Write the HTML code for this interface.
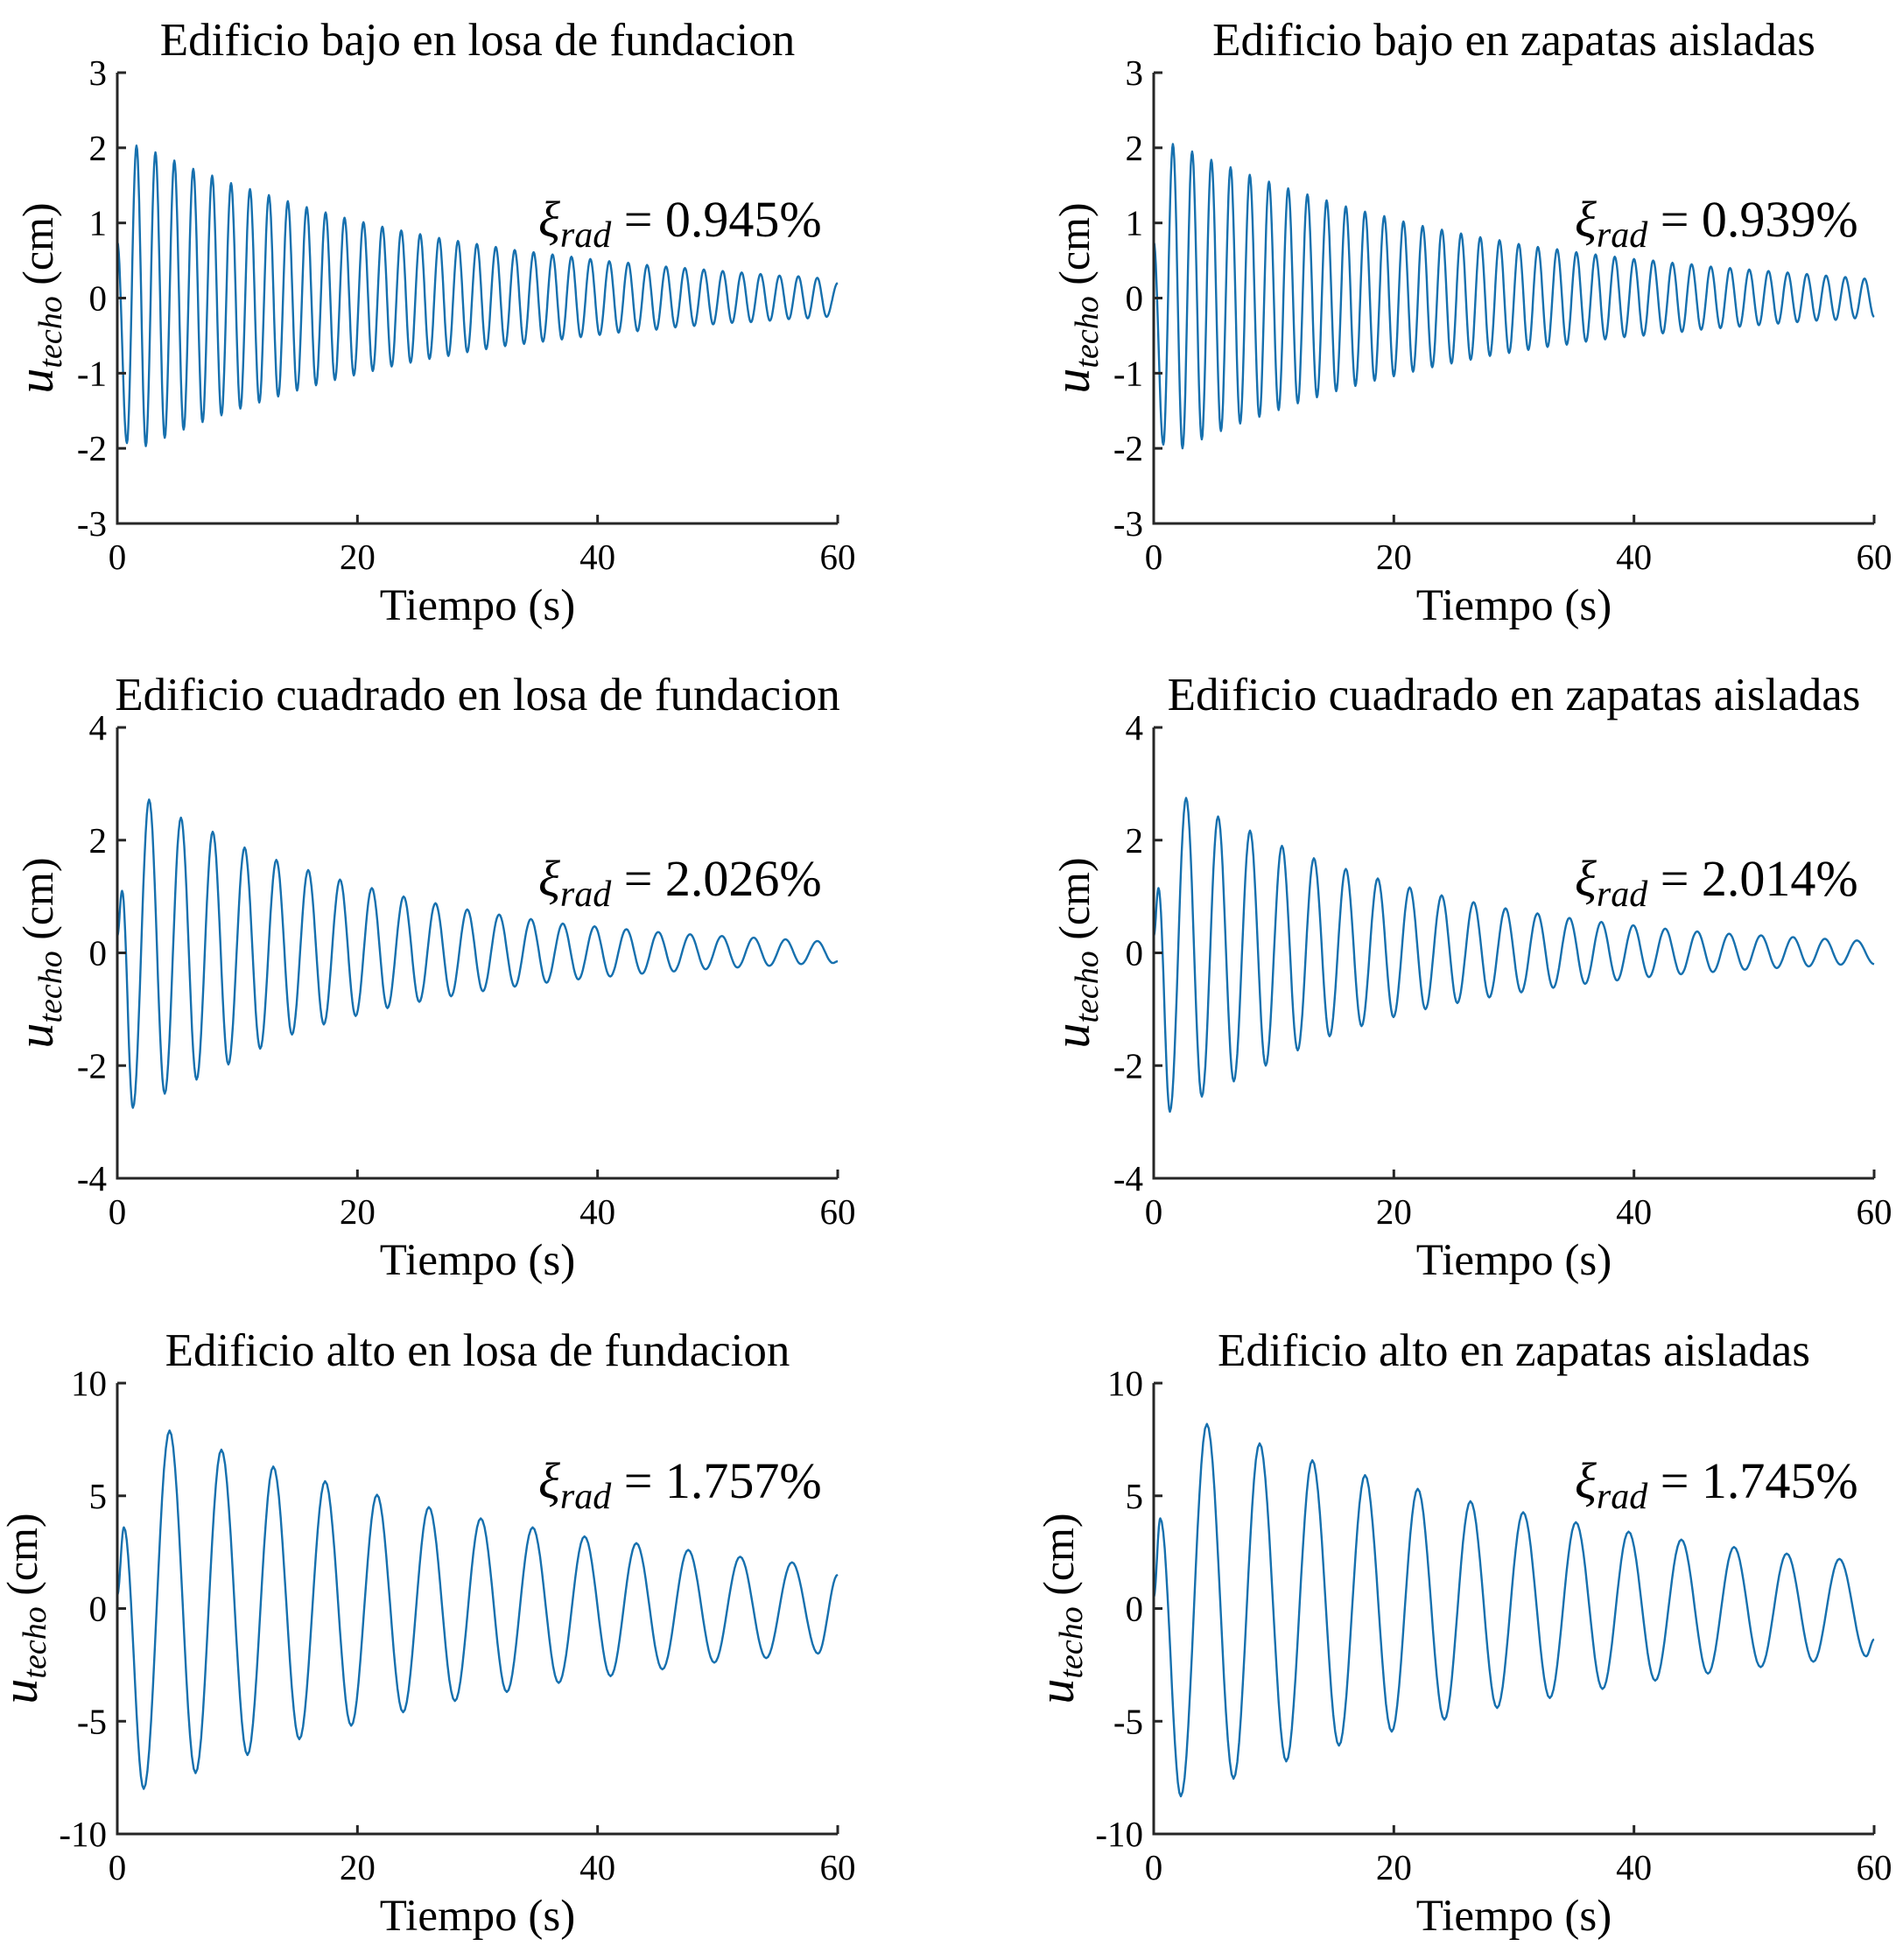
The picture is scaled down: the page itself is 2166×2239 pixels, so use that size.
<!DOCTYPE html>
<html><head><meta charset="utf-8">
<style>
html,body{margin:0;padding:0;background:#fff}
svg{display:block}
text{font-family:"Liberation Serif","DejaVu Serif",serif;fill:#000}
</style></head>
<body>
<svg id="fig" width="2166" height="2239" viewBox="0 0 2166 2239" xmlns="http://www.w3.org/2000/svg"></svg>
<script>
// ---- data ----
const titles = ["Edificio bajo en losa de fundacion","Edificio bajo en zapatas aisladas","Edificio cuadrado en losa de fundacion","Edificio cuadrado en zapatas aisladas","Edificio alto en losa de fundacion","Edificio alto en zapatas aisladas"];
const dampingLabels = ["0.945%","0.939%","2.026%","2.014%","1.757%","1.745%"];
const xTicks = [0,20,40,60];
const yTicksRow1 = [-3,-2,-1,0,1,2,3];
const yTicksRow2 = [-4,-2,0,2,4];
const yTicksRow3 = [-10,-5,0,5,10];
const startValues = [0.75,0.75,0.3,0.3,0.6,0.5];
const endValues = [0.2,-0.25,-0.15,-0.2,1.5,-1.37];
const periods = [1.575,1.6,2.65,2.66,4.32,4.39];
const firstMinTimes = [0.8,0.8,1.3,1.35,2.2,2.26];
const firstMaxTimes = [1.6,1.6,2.65,2.7,4.35,4.43];
const preMaxTimes = [null,null,0.4,0.4,0.55,0.55];
const preMaxValues = [null,null,1.1,1.15,3.6,4.0];
const maxTL = [2.03,1.94,1.83,1.72,1.63,1.53,1.45,1.37,1.29,1.21,1.14,1.07,1.01,0.95,0.90,0.85,0.80,0.76,0.72,0.68,0.64,0.61,0.58,0.55,0.52,0.49,0.47,0.44,0.42,0.40,0.38,0.36,0.34,0.32,0.30,0.29,0.27];
const minTL = [-1.93,-1.97,-1.86,-1.75,-1.65,-1.56,-1.47,-1.39,-1.31,-1.23,-1.16,-1.09,-1.03,-0.97,-0.91,-0.86,-0.81,-0.77,-0.72,-0.68,-0.64,-0.61,-0.58,-0.55,-0.52,-0.49,-0.46,-0.44,-0.42,-0.39,-0.37,-0.35,-0.33,-0.32,-0.30,-0.28,-0.27,-0.25];
const maxTR = [2.05,1.95,1.84,1.74,1.64,1.55,1.46,1.38,1.30,1.22,1.15,1.09,1.02,0.96,0.91,0.86,0.81,0.77,0.72,0.68,0.65,0.61,0.58,0.55,0.52,0.50,0.47,0.45,0.42,0.40,0.38,0.36,0.34,0.32,0.30,0.28,0.26];
const minTR = [-1.95,-2.0,-1.88,-1.77,-1.67,-1.58,-1.49,-1.40,-1.32,-1.24,-1.17,-1.10,-1.04,-0.98,-0.92,-0.87,-0.82,-0.77,-0.73,-0.69,-0.65,-0.62,-0.58,-0.55,-0.52,-0.50,-0.47,-0.45,-0.42,-0.40,-0.38,-0.36,-0.34,-0.32,-0.30,-0.29,-0.27];
const maxML = [2.72,2.4,2.15,1.87,1.65,1.47,1.3,1.15,1.0,0.88,0.77,0.68,0.6,0.52,0.47,0.42,0.37,0.33,0.3,0.27,0.24,0.21];
const minML = [-2.75,-2.5,-2.25,-1.98,-1.7,-1.45,-1.27,-1.12,-0.98,-0.87,-0.77,-0.68,-0.6,-0.53,-0.47,-0.42,-0.37,-0.33,-0.29,-0.26,-0.23,-0.2,-0.18];
const maxMR = [2.75,2.42,2.17,1.9,1.68,1.49,1.32,1.16,1.02,0.9,0.79,0.7,0.62,0.55,0.49,0.43,0.38,0.34,0.31,0.28,0.25,0.22];
const minMR = [-2.82,-2.55,-2.28,-2.0,-1.73,-1.48,-1.3,-1.14,-1.0,-0.89,-0.79,-0.7,-0.62,-0.55,-0.49,-0.43,-0.38,-0.34,-0.3,-0.27,-0.24,-0.21];
const maxBL = [7.9,7.05,6.3,5.65,5.05,4.5,4.0,3.6,3.2,2.9,2.6,2.3,2.05];
const minBL = [-8.0,-7.3,-6.5,-5.8,-5.2,-4.6,-4.1,-3.7,-3.3,-3.0,-2.7,-2.4,-2.2,-2.0];
const maxBR = [8.19,7.33,6.58,5.92,5.31,4.76,4.27,3.83,3.41,3.06,2.73,2.44,2.2];
const minBR = [-8.33,-7.55,-6.78,-6.08,-5.46,-4.93,-4.41,-3.97,-3.57,-3.2,-2.89,-2.6,-2.36,-2.12];

const maxSets=[maxTL,maxTR,maxML,maxMR,maxBL,maxBR];
const minSets=[minTL,minTR,minML,minMR,minBL,minBR];
const yTickSets=[yTicksRow1,yTicksRow1,yTicksRow2,yTicksRow2,yTicksRow3,yTicksRow3];

const NS="http://www.w3.org/2000/svg";
const svg=document.getElementById('fig');
function mk(tag,attrs,parent){const e=document.createElementNS(NS,tag);for(const k in attrs)e.setAttribute(k,attrs[k]);(parent||svg).appendChild(e);return e;}

const colLeft=[134,1318], plotW=823, rowTop=[83,831,1580], plotH=515;
const annY=[187,192,131];
const ylabOff=[-90,-90,-108];

for(let p=0;p<6;p++){
  const c=p%2,r=Math.floor(p/2);
  const L=colLeft[c],T=rowTop[r],B=T+plotH,R=L+plotW;
  const yt=yTickSets[p],ymin=yt[0],ymax=yt[yt.length-1];
  const xs=t=>L+t/60*plotW;
  const ys=v=>B-(v-ymin)/(ymax-ymin)*plotH;
  const g=mk('g',{});
  
  
  const tt=mk('text',{x:(L+R)/2,y:T-20,'text-anchor':'middle','font-size':53},g);
  tt.textContent=titles[p];
  
  
  const pts=[[0,startValues[p]]];
  if(preMaxTimes[p]!==null)pts.push([preMaxTimes[p],preMaxValues[p]]);
  minSets[p].forEach((v,k)=>pts.push([firstMinTimes[p]+k*periods[p],v]));
  maxSets[p].forEach((v,k)=>pts.push([firstMaxTimes[p]+k*periods[p],v]));
  pts.sort((a,b)=>a[0]-b[0]);
  const ext=pts.filter(q=>q[0]<60);
  ext.push([60,endValues[p]]);
  let d='M'+xs(ext[0][0]).toFixed(1)+' '+ys(ext[0][1]).toFixed(1);
  for(let i=1;i<ext.length;i++){
    const [t0,v0]=ext[i-1],[t1,v1]=ext[i];
    const n=14;
    for(let j=1;j<=n;j++){const f=j/n;const w=(1-Math.cos(Math.PI*f))/2;
      d+=' L'+xs(t0+(t1-t0)*f).toFixed(1)+' '+ys(v0+(v1-v0)*w).toFixed(1);}
  }
  const line=mk('path',{d:d,fill:'none',stroke:'#1670AE','stroke-width':2.4,'stroke-linejoin':'round'},g);
  
  
  const ax=mk('path',{d:`M${L} ${T} L${L} ${B} L${R} ${B}`,fill:'none',stroke:'#262626','stroke-width':3},g);
  
  
  yt.forEach(v=>{
    mk('line',{x1:L,x2:L+10,y1:ys(v),y2:ys(v),stroke:'#262626','stroke-width':3},g);
    const tl=mk('text',{x:L-12,y:ys(v)+14,'text-anchor':'end','font-size':41,fill:'#262626'},g);
    tl.textContent=String(v);
    
    
  });
  xTicks.forEach(v=>{
    mk('line',{x1:xs(v),x2:xs(v),y1:B,y2:B-10,stroke:'#262626','stroke-width':3},g);
    const tl=mk('text',{x:xs(v),y:B+52,'text-anchor':'middle','font-size':41,fill:'#262626'},g);
    tl.textContent=String(v);
    
    
  });
  const xl=mk('text',{x:(L+R)/2,y:B+110,'text-anchor':'middle','font-size':51},g);
  xl.textContent='Tiempo (s)';
  
  
  const yx=L+ylabOff[r],yy=(T+B)/2;
  const yl=mk('text',{x:0,y:0,'text-anchor':'middle','font-size':50,transform:`translate(${yx+16},${yy}) rotate(-90)`},g);
  yl.innerHTML='<tspan font-style="italic" font-size="58">u</tspan><tspan font-style="italic" font-size="38" dy="10">techo</tspan><tspan dy="-10">  (cm)</tspan>';
  
  
  const an=mk('text',{x:L+481,y:T+annY[r],'font-size':58},g);
  an.innerHTML='<tspan font-style="italic">ξ</tspan><tspan font-style="italic" font-size="42" dy="12">rad</tspan><tspan dy="-12"> = '+dampingLabels[p]+'</tspan>';
  
  
}
</script>
</body></html>
